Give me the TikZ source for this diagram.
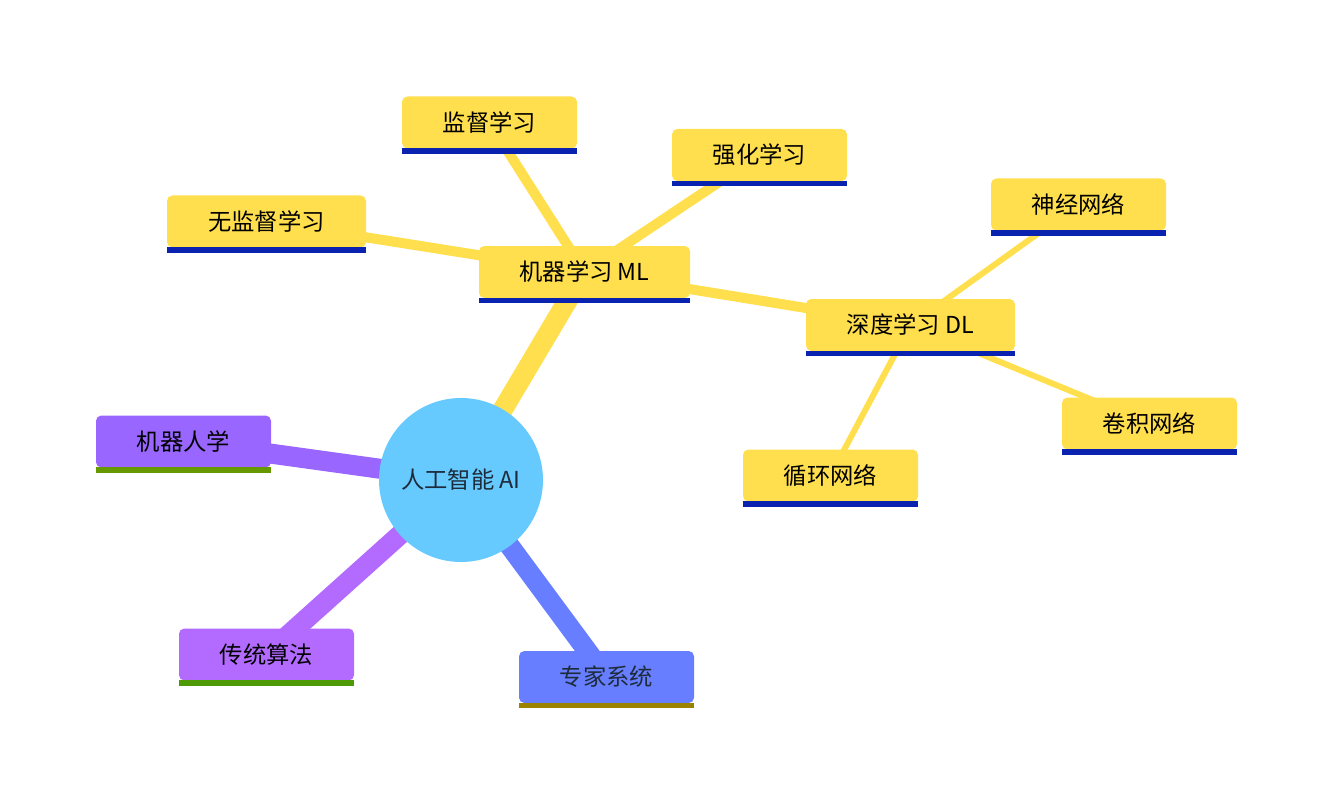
\documentclass[tikz,border=0pt]{standalone}
\usepackage{fontspec}
\setmainfont{Noto Sans CJK SC}
\usetikzlibrary{backgrounds}
\definecolor{ylw}{HTML}{FFDF4D}
\definecolor{barblue}{HTML}{0A22B0}
\definecolor{aiblue}{HTML}{66CAFF}
\definecolor{robot}{HTML}{9966FF}
\definecolor{algo}{HTML}{B36BFF}
\definecolor{expert}{HTML}{667EFF}
\definecolor{bargreen}{HTML}{669900}
\definecolor{bargreenb}{HTML}{4D9906}
\definecolor{barolive}{HTML}{9B8200}
\definecolor{aitext}{HTML}{1E2B3A}
\tikzset{
  topic/.style={rectangle, rounded corners=4pt, inner sep=0pt, minimum height=39pt, minimum width=131.25pt, font=\fontsize{17.5}{20}\selectfont, text=black},
  yel/.style={topic, fill=ylw},
  wide/.style={minimum width=#1},
  lvlone/.style={line width=15pt},
  lvltwo/.style={line width=7.5pt, ylw},
  lvlthree/.style={line width=4.5pt, ylw},
}
\newcommand{\topicbar}[2]{\fill[#2] ([yshift=0.5pt]#1.south west) rectangle ([yshift=-3.75pt]#1.south east);}
\begin{document}
\begin{tikzpicture}[x=0.75pt,y=-0.75pt]
\useasboundingbox (0,0) rectangle (1333,802);
\node[circle, fill=aiblue, minimum size=123pt, inner sep=0pt, text=aitext, font=\fontsize{17.5}{20}\selectfont] (ai) at (461,480) {人工智能 AI};
\node[yel, wide=158.25pt] (ml) at (584.5,272) {机器学习 ML};
\node[yel] (sup) at (489.5,122.5) {监督学习};
\node[yel] (rl) at (759.5,155) {强化学习};
\node[yel, wide=149.25pt] (unsup) at (266.5,221.5) {无监督学习};
\node[yel, wide=156.75pt] (dl) at (910.5,325) {深度学习 DL};
\node[yel] (nn) at (1078.5,204.5) {神经网络};
\node[yel] (cnn) at (1149.5,423.5) {卷积网络};
\node[yel] (rnn) at (830.5,475.5) {循环网络};
\node[topic, fill=robot] (robot) at (183.5,441.5) {机器人学};
\node[topic, fill=algo] (algo) at (266.5,654.5) {传统算法};
\node[topic, fill=expert, text=aitext] (expert) at (606.5,677) {专家系统};
\topicbar{ml}{barblue}
\topicbar{sup}{barblue}
\topicbar{rl}{barblue}
\topicbar{unsup}{barblue}
\topicbar{dl}{barblue}
\topicbar{nn}{barblue}
\topicbar{cnn}{barblue}
\topicbar{rnn}{barblue}
\topicbar{robot}{bargreen}
\topicbar{algo}{bargreenb}
\topicbar{expert}{barolive}
\begin{scope}[on background layer]
\draw[lvlone, ylw] (ai.center) -- (ml.center);
\draw[lvlone, robot] (ai.center) -- (robot.center);
\draw[lvlone, algo] (ai.center) -- (algo.center);
\draw[lvlone, expert] (ai.center) -- (expert.center);
\draw[lvltwo] (ml.center) -- (sup.center);
\draw[lvltwo] (ml.center) -- (rl.center);
\draw[lvltwo] (ml.center) -- (unsup.center);
\draw[lvltwo] (ml.center) -- (dl.center);
\draw[lvlthree] (dl.center) -- (nn.center);
\draw[lvlthree] (dl.center) -- (cnn.center);
\draw[lvlthree] (dl.center) -- (rnn.center);
\end{scope}
\end{tikzpicture}
\end{document}
